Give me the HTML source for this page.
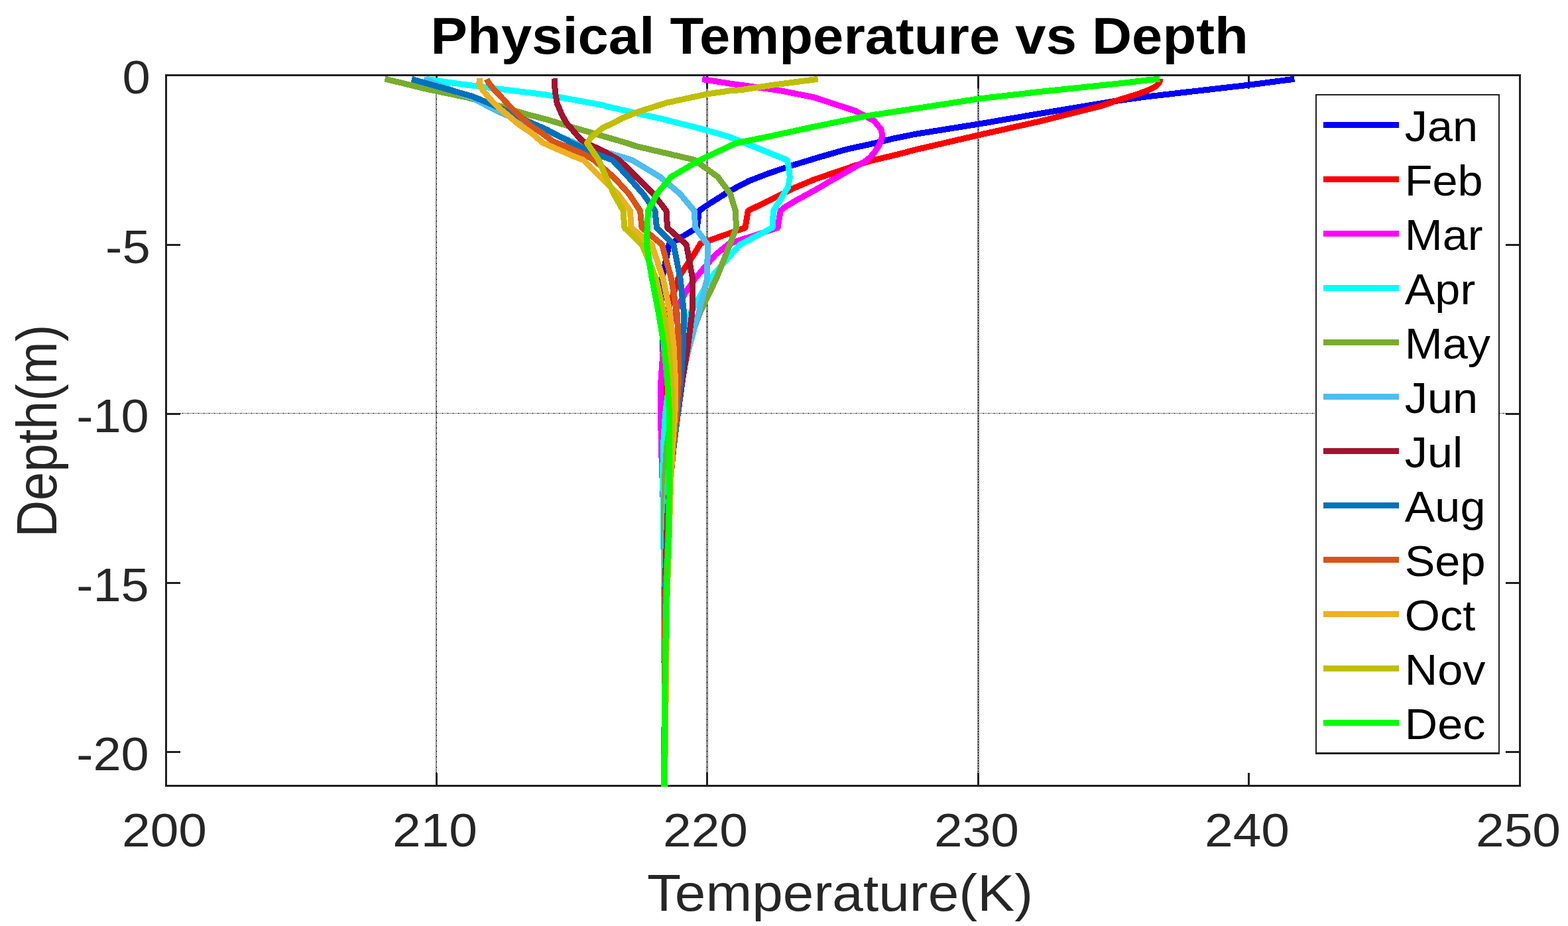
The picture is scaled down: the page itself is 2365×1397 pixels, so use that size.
<!DOCTYPE html>
<html lang="en"><head><meta charset="utf-8"><title>Physical Temperature vs Depth</title>
<style>html,body{margin:0;padding:0;background:#fff;overflow:hidden}svg{display:block}text{font-family:"Liberation Sans",Arial,Helvetica,sans-serif}</style>
</head><body>
<svg xmlns="http://www.w3.org/2000/svg" width="2365" height="1397" viewBox="0 0 2365 1397">
<defs>
<pattern id="g3" width="3" height="4" patternUnits="userSpaceOnUse"><rect x="1" y="0" width="1" height="1" fill="#202020"/><rect x="0" y="1" width="1" height="1" fill="#202020"/><rect x="2" y="1" width="1" height="1" fill="#202020"/><rect x="1" y="2" width="1" height="1" fill="#202020"/><rect x="0" y="3" width="1" height="1" fill="#202020"/><rect x="1" y="3" width="1" height="1" fill="#202020"/><rect x="2" y="3" width="1" height="1" fill="#202020"/></pattern>
<pattern id="g3a" width="3" height="8" patternUnits="userSpaceOnUse"><rect x="1" y="0" width="1" height="1" fill="#202020"/><rect x="0" y="1" width="1" height="1" fill="#202020"/><rect x="2" y="1" width="1" height="1" fill="#202020"/><rect x="1" y="2" width="1" height="1" fill="#202020"/><rect x="0" y="3" width="1" height="1" fill="#202020"/><rect x="2" y="3" width="1" height="1" fill="#202020"/><rect x="1" y="4" width="1" height="1" fill="#202020"/><rect x="0" y="5" width="1" height="1" fill="#202020"/><rect x="1" y="5" width="1" height="1" fill="#202020"/><rect x="2" y="5" width="1" height="1" fill="#202020"/><rect x="1" y="6" width="1" height="1" fill="#202020"/><rect x="0" y="7" width="1" height="1" fill="#202020"/><rect x="2" y="7" width="1" height="1" fill="#202020"/></pattern>
<pattern id="g2" width="2" height="8" patternUnits="userSpaceOnUse"><rect x="1" y="0" width="1" height="1" fill="#202020"/><rect x="0" y="1" width="1" height="1" fill="#202020"/><rect x="1" y="2" width="1" height="1" fill="#202020"/><rect x="0" y="3" width="1" height="1" fill="#202020"/><rect x="1" y="4" width="1" height="1" fill="#202020"/><rect x="0" y="5" width="1" height="1" fill="#202020"/><rect x="1" y="5" width="1" height="1" fill="#202020"/><rect x="1" y="6" width="1" height="1" fill="#202020"/><rect x="0" y="7" width="1" height="1" fill="#202020"/></pattern>
<clipPath id="axclip"><rect x="249" y="112" width="2045" height="1075"/></clipPath>
</defs>
<rect width="2365" height="1397" fill="#ffffff"/>
<g id="grid" shape-rendering="crispEdges">
<g transform="translate(657,0)"><rect x="0" y="115" width="2" height="1069" fill="url(#g2)"/></g>
<g transform="translate(1065,0)"><rect x="0" y="115" width="3" height="1069" fill="url(#g3a)"/></g>
<g transform="translate(1474,0)"><rect x="0" y="115" width="3" height="1069" fill="url(#g3)"/></g>
<line x1="272" y1="623.5" x2="2271" y2="623.5" stroke="#202020" stroke-width="1" stroke-dasharray="3 1 1 1 1 1" stroke-dashoffset="6"/>
</g>
<g id="axes" stroke="#202020" stroke-width="3" fill="none" shape-rendering="crispEdges">
<rect x="250.5" y="113.5" width="2042.0" height="1072.0"/>
<line x1="658.5" y1="1185.5" x2="658.5" y2="1165.5"/>
<line x1="658.5" y1="113.5" x2="658.5" y2="133.5"/>
<line x1="1066.5" y1="1185.5" x2="1066.5" y2="1165.5"/>
<line x1="1066.5" y1="113.5" x2="1066.5" y2="133.5"/>
<line x1="1475.5" y1="1185.5" x2="1475.5" y2="1165.5"/>
<line x1="1475.5" y1="113.5" x2="1475.5" y2="133.5"/>
<line x1="1883.5" y1="1185.5" x2="1883.5" y2="1165.5"/>
<line x1="1883.5" y1="113.5" x2="1883.5" y2="133.5"/>
<line x1="250.5" y1="369.5" x2="272.0" y2="369.5"/>
<line x1="2292.5" y1="369.5" x2="2271.0" y2="369.5"/>
<line x1="250.5" y1="624.5" x2="272.0" y2="624.5"/>
<line x1="2292.5" y1="624.5" x2="2271.0" y2="624.5"/>
<line x1="250.5" y1="879.5" x2="272.0" y2="879.5"/>
<line x1="2292.5" y1="879.5" x2="2271.0" y2="879.5"/>
<line x1="250.5" y1="1134.5" x2="272.0" y2="1134.5"/>
<line x1="2292.5" y1="1134.5" x2="2271.0" y2="1134.5"/>
</g>
<g id="curves" fill="none" stroke-width="9" stroke-linejoin="round" stroke-linecap="butt" shape-rendering="crispEdges" clip-path="url(#axclip)">
<path d="M1952.4,119.2 L1883.5,128.2 L1786.9,139.3 L1723.4,146.6 L1680.0,152.8 L1570.3,171.0 L1475.5,187.2 L1380.0,202.4 L1350.0,208.5 L1319.1,216.1 L1276.8,225.3 L1234.6,237.4 L1192.3,250.4 L1160.0,261.3 L1129.1,273.2 L1099.5,288.8 L1069.9,307.4 L1054.3,318.0 L1051.4,343.6 L1009.1,369.1 L1004.0,394.6 L998.5,420.1 L997.5,471.2 L999.8,522.2 L1001.0,573.3 L1002.0,624.3 L1003.0,726.4 L1004.0,828.5 L1004.3,943.0 L1004.0,1000.0 L1003.0,1100.0 L1002.0,1188.0" stroke="#0000ff"/>
<path d="M1749.6,118.6 L1749.2,122.5 L1747.0,126.5 L1742.4,131.0 L1732.3,135.9 L1715.4,142.2 L1690.0,149.9 L1660.0,160.0 L1570.3,182.6 L1475.5,203.9 L1380.0,226.1 L1353.7,233.1 L1315.7,242.0 L1290.3,249.6 L1226.9,271.3 L1197.7,283.7 L1160.0,302.5 L1128.3,318.0 L1124.0,343.6 L1056.4,367.5 L1046.3,384.6 L1031.9,405.7 L1023.0,420.1 L1013.5,450.0 L1006.0,471.2 L1001.0,522.2 L1001.5,573.3 L1002.0,624.3 L1002.5,726.4 L1003.0,828.5 L1003.3,1000.0 L1002.5,1100.0 L1001.8,1188.0" stroke="#ff0000"/>
<path d="M1059.1,119.5 L1100.0,125.9 L1176.1,136.5 L1226.9,146.6 L1290.3,167.4 L1318.0,182.0 L1328.9,195.0 L1330.6,203.5 L1329.3,211.9 L1324.2,222.1 L1319.1,229.7 L1313.2,236.4 L1306.4,242.4 L1298.0,247.4 L1285.3,254.2 L1268.4,264.3 L1251.5,273.6 L1234.6,283.8 L1217.7,293.1 L1200.7,302.4 L1183.8,312.5 L1177.3,318.0 L1173.0,343.6 L1099.0,368.0 L1078.9,384.6 L1064.1,401.5 L1048.5,420.1 L1035.0,439.6 L1025.0,457.4 L1017.5,471.2 L1000.7,522.2 L997.0,573.3 L996.5,624.3 L997.5,675.4 L999.2,726.4 L1001.0,777.4 L1002.0,828.5 L1002.5,1000.0 L1002.0,1100.0 L1001.5,1188.0" stroke="#ff00ff"/>
<path d="M643.7,119.5 L700.0,127.6 L720.7,130.0 L748.5,133.6 L824.6,143.1 L909.1,158.7 L920.0,161.7 L1004.6,180.9 L1065.0,196.3 L1100.0,206.5 L1138.1,221.7 L1182.5,239.5 L1187.5,242.0 L1190.1,257.2 L1191.3,267.4 L1188.8,282.0 L1166.5,318.0 L1165.0,343.6 L1116.0,369.1 L1071.0,420.1 L1042.0,471.2 L1022.0,522.2 L1010.0,573.3 L1003.5,624.3 L1000.2,675.4 L999.8,726.4 L1000.5,777.4 L1001.0,828.5 L1002.0,1000.0 L1002.0,1100.0 L1001.5,1188.0" stroke="#00ffff"/>
<path d="M580.5,119.0 L644.6,134.6 L703.8,146.9 L759.6,161.7 L790.7,171.4 L824.6,180.3 L866.8,193.0 L909.1,205.2 L946.0,216.0 L960.0,220.7 L1036.1,238.5 L1048.0,241.5 L1082.8,267.0 L1101.5,292.5 L1109.3,318.0 L1110.5,343.6 L1100.8,369.1 L1080.5,420.1 L1056.0,471.2 L1037.0,522.2 L1024.0,573.3 L1013.0,624.3 L1005.5,675.4 L1002.2,726.4 L1001.7,777.4 L1002.0,828.5 L1002.0,1000.0 L1002.0,1100.0 L1001.5,1188.0" stroke="#77ac30"/>
<path d="M639.1,119.5 L712.2,147.7 L740.0,162.5 L761.1,172.7 L858.4,211.6 L868.0,216.0 L911.1,228.8 L940.7,237.6 L953.4,241.5 L995.7,267.0 L1025.7,292.5 L1047.1,318.0 L1048.8,343.6 L1067.4,369.1 L1066.5,420.1 L1054.0,471.2 L1040.0,522.2 L1028.0,573.3 L1019.0,624.3 L1012.0,675.4 L1007.3,726.4 L1004.5,777.4 L1003.5,828.5 L1002.0,900.0 L1002.0,1000.0 L1002.0,1100.0 L1001.5,1188.0" stroke="#4dbeee"/>
<path d="M836.2,118.4 L837.3,138.8 L840.2,155.7 L847.4,172.7 L854.2,185.3 L865.2,198.0 L876.2,210.7 L884.0,216.0 L906.8,226.2 L934.0,241.5 L960.2,267.0 L985.3,292.5 L1005.0,318.0 L1006.6,343.6 L1035.3,369.1 L1044.6,420.1 L1044.0,471.2 L1037.5,522.2 L1029.5,573.3 L1022.5,624.3 L1016.0,675.4 L1010.5,726.4 L1006.8,777.4 L1005.0,828.5 L1002.5,900.0 L1002.0,1000.0 L1002.0,1100.0 L1001.5,1188.0" stroke="#a2142f"/>
<path d="M620.9,119.4 L712.0,145.2 L737.6,155.7 L765.4,168.0 L794.1,182.1 L824.6,195.5 L849.9,209.0 L863.0,216.0 L881.5,224.5 L906.8,235.1 L924.0,241.5 L947.6,267.0 L970.0,292.5 L988.0,318.0 L990.5,343.6 L1015.9,369.1 L1026.0,420.1 L1031.5,471.2 L1030.5,522.2 L1027.0,573.3 L1022.5,624.3 L1016.0,675.4 L1011.0,726.4 L1008.0,777.4 L1006.5,828.5 L1003.0,900.0 L1002.0,1000.0 L1002.0,1100.0 L1001.5,1188.0" stroke="#0072bd"/>
<path d="M734.2,119.4 L737.0,124.9 L744.0,133.8 L752.6,142.7 L760.9,151.6 L768.8,160.5 L778.1,169.4 L787.6,178.3 L797.9,187.2 L805.2,193.0 L816.4,200.0 L830.7,211.0 L837.0,214.5 L856.1,222.0 L881.5,233.0 L896.0,241.5 L925.4,267.0 L948.7,292.5 L965.5,318.0 L968.1,343.6 L998.5,369.1 L1012.5,420.1 L1021.0,471.2 L1024.0,522.2 L1023.5,573.3 L1020.5,624.3 L1015.5,675.4 L1011.5,726.4 L1009.0,777.4 L1007.0,828.5 L1003.5,900.0 L1002.0,1000.0 L1002.0,1100.0 L1001.5,1188.0" stroke="#d95319"/>
<path d="M723.5,118.0 L722.9,124.9 L725.0,130.8 L728.5,136.7 L733.9,142.7 L738.6,148.6 L744.0,154.6 L750.5,160.5 L757.0,166.4 L764.2,172.4 L771.3,178.3 L778.4,184.3 L785.6,190.2 L795.0,196.0 L801.5,200.5 L818.5,215.2 L839.2,224.5 L864.6,235.5 L880.0,241.5 L905.4,267.0 L931.7,292.5 L950.5,318.0 L952.0,343.6 L983.3,369.1 L1000.0,420.1 L1010.5,471.2 L1016.0,522.2 L1018.5,573.3 L1018.0,624.3 L1014.3,675.4 L1011.7,726.4 L1010.0,777.4 L1008.5,828.5 L1006.0,900.0 L1004.8,1000.0 L1003.5,1100.0 L1002.5,1188.0" stroke="#edb120"/>
<path d="M1233.8,119.3 L1163.4,128.5 L1120.0,135.4 L1100.0,137.0 L1065.0,142.2 L1004.6,155.3 L962.3,168.8 L940.0,177.7 L920.0,187.9 L909.1,193.0 L892.2,206.5 L885.5,216.0 L903.1,241.5 L914.0,267.0 L925.8,292.5 L940.0,318.0 L941.9,343.6 L968.5,369.1 L989.5,420.1 L1001.0,471.2 L1008.5,522.2 L1012.5,573.3 L1014.5,624.3 L1012.3,675.4 L1010.5,726.4 L1009.0,777.4 L1008.0,828.5 L1005.5,900.0 L1004.0,1000.0 L1003.0,1100.0 L1002.0,1188.0" stroke="#bfbf00"/>
<path d="M1749.4,119.2 L1732.3,120.7 L1690.0,125.7 L1680.0,126.8 L1570.3,138.2 L1475.5,149.1 L1400.0,160.8 L1308.0,174.8 L1226.9,191.3 L1163.4,205.2 L1110.0,216.0 L1055.6,241.5 L1012.0,267.0 L990.8,292.5 L977.6,318.0 L976.1,343.6 L975.7,369.1 L979.0,394.6 L983.3,420.1 L993.2,471.2 L1001.5,522.2 L1006.5,573.3 L1009.6,624.3 L1009.5,710.0 L1008.4,810.0 L1005.8,871.6 L1004.4,943.0 L1003.3,1000.0 L1002.4,1100.0 L1001.5,1188.0" stroke="#00ff00"/>
</g>
<g id="ticklabels">
<text transform="translate(248.00,1277.00) scale(1.095,0.996)" font-size="70.1" text-anchor="middle" font-weight="normal" fill="#262626">200</text>
<text transform="translate(656.00,1277.00) scale(1.095,0.996)" font-size="70.1" text-anchor="middle" font-weight="normal" fill="#262626">210</text>
<text transform="translate(1064.00,1277.00) scale(1.095,0.996)" font-size="70.1" text-anchor="middle" font-weight="normal" fill="#262626">220</text>
<text transform="translate(1473.00,1277.00) scale(1.095,0.996)" font-size="70.1" text-anchor="middle" font-weight="normal" fill="#262626">230</text>
<text transform="translate(1881.00,1277.00) scale(1.095,0.996)" font-size="70.1" text-anchor="middle" font-weight="normal" fill="#262626">240</text>
<text transform="translate(2290.00,1277.00) scale(1.095,0.996)" font-size="70.1" text-anchor="middle" font-weight="normal" fill="#262626">250</text>
<text transform="translate(226.70,141.00) scale(1.085,0.996)" font-size="70.1" text-anchor="end" font-weight="normal" fill="#262626">0</text>
<text transform="translate(226.70,397.00) scale(1.085,0.996)" font-size="70.1" text-anchor="end" font-weight="normal" fill="#262626">-5</text>
<text transform="translate(224.70,651.70) scale(1.08,0.996)" font-size="70.1" text-anchor="end" font-weight="normal" fill="#262626">-10</text>
<text transform="translate(224.70,906.70) scale(1.08,0.996)" font-size="70.1" text-anchor="end" font-weight="normal" fill="#262626">-15</text>
<text transform="translate(224.70,1161.70) scale(1.08,0.996)" font-size="70.1" text-anchor="end" font-weight="normal" fill="#262626">-20</text>
</g>
<text transform="translate(975.90,1373.90) scale(1.0886,1.0)" font-size="77.0" text-anchor="start" font-weight="normal" fill="#262626">Temperature(K)</text>
<text transform="translate(85.10,810.50) rotate(-90) scale(1.0,1.1)" font-size="77.0" text-anchor="start" font-weight="normal" fill="#262626">Depth(m)</text>
<text transform="translate(649.60,81.20) scale(1.078,1.02)" font-size="77.2" text-anchor="start" font-weight="bold" fill="#000">Physical Temperature vs Depth</text>
<g id="legendbox" shape-rendering="crispEdges"><rect x="1984" y="142" width="278" height="996" fill="#202020"/><rect x="1986" y="144" width="274" height="991" fill="#ffffff"/></g>
<g id="legend">
<rect x="1996" y="184.0" width="114" height="9" fill="#0000ff" shape-rendering="crispEdges"/>
<text transform="translate(2118.70,213.00) scale(1.085,1.02)" font-size="63.1" text-anchor="start" font-weight="normal" fill="#000">Jan</text>
<rect x="1996" y="266.0" width="114" height="9" fill="#ff0000" shape-rendering="crispEdges"/>
<text transform="translate(2118.70,295.00) scale(1.085,1.02)" font-size="63.1" text-anchor="start" font-weight="normal" fill="#000">Feb</text>
<rect x="1996" y="348.0" width="114" height="9" fill="#ff00ff" shape-rendering="crispEdges"/>
<text transform="translate(2118.70,377.00) scale(1.085,1.02)" font-size="63.1" text-anchor="start" font-weight="normal" fill="#000">Mar</text>
<rect x="1996" y="430.0" width="114" height="9" fill="#00ffff" shape-rendering="crispEdges"/>
<text transform="translate(2118.70,459.00) scale(1.085,1.02)" font-size="63.1" text-anchor="start" font-weight="normal" fill="#000">Apr</text>
<rect x="1996" y="512.0" width="114" height="9" fill="#77ac30" shape-rendering="crispEdges"/>
<text transform="translate(2118.70,541.00) scale(1.085,1.02)" font-size="63.1" text-anchor="start" font-weight="normal" fill="#000">May</text>
<rect x="1996" y="594.0" width="114" height="9" fill="#4dbeee" shape-rendering="crispEdges"/>
<text transform="translate(2118.70,623.00) scale(1.085,1.02)" font-size="63.1" text-anchor="start" font-weight="normal" fill="#000">Jun</text>
<rect x="1996" y="676.0" width="114" height="9" fill="#a2142f" shape-rendering="crispEdges"/>
<text transform="translate(2118.70,705.00) scale(1.085,1.02)" font-size="63.1" text-anchor="start" font-weight="normal" fill="#000">Jul</text>
<rect x="1996" y="758.0" width="114" height="9" fill="#0072bd" shape-rendering="crispEdges"/>
<text transform="translate(2118.70,787.00) scale(1.085,1.02)" font-size="63.1" text-anchor="start" font-weight="normal" fill="#000">Aug</text>
<rect x="1996" y="840.0" width="114" height="9" fill="#d95319" shape-rendering="crispEdges"/>
<text transform="translate(2118.70,869.00) scale(1.085,1.02)" font-size="63.1" text-anchor="start" font-weight="normal" fill="#000">Sep</text>
<rect x="1996" y="922.0" width="114" height="9" fill="#edb120" shape-rendering="crispEdges"/>
<text transform="translate(2118.70,951.00) scale(1.085,1.02)" font-size="63.1" text-anchor="start" font-weight="normal" fill="#000">Oct</text>
<rect x="1996" y="1004.0" width="114" height="9" fill="#bfbf00" shape-rendering="crispEdges"/>
<text transform="translate(2118.70,1033.00) scale(1.085,1.02)" font-size="63.1" text-anchor="start" font-weight="normal" fill="#000">Nov</text>
<rect x="1996" y="1086.0" width="114" height="9" fill="#00ff00" shape-rendering="crispEdges"/>
<text transform="translate(2118.70,1115.00) scale(1.085,1.02)" font-size="63.1" text-anchor="start" font-weight="normal" fill="#000">Dec</text>
</g>
</svg>
</body></html>
